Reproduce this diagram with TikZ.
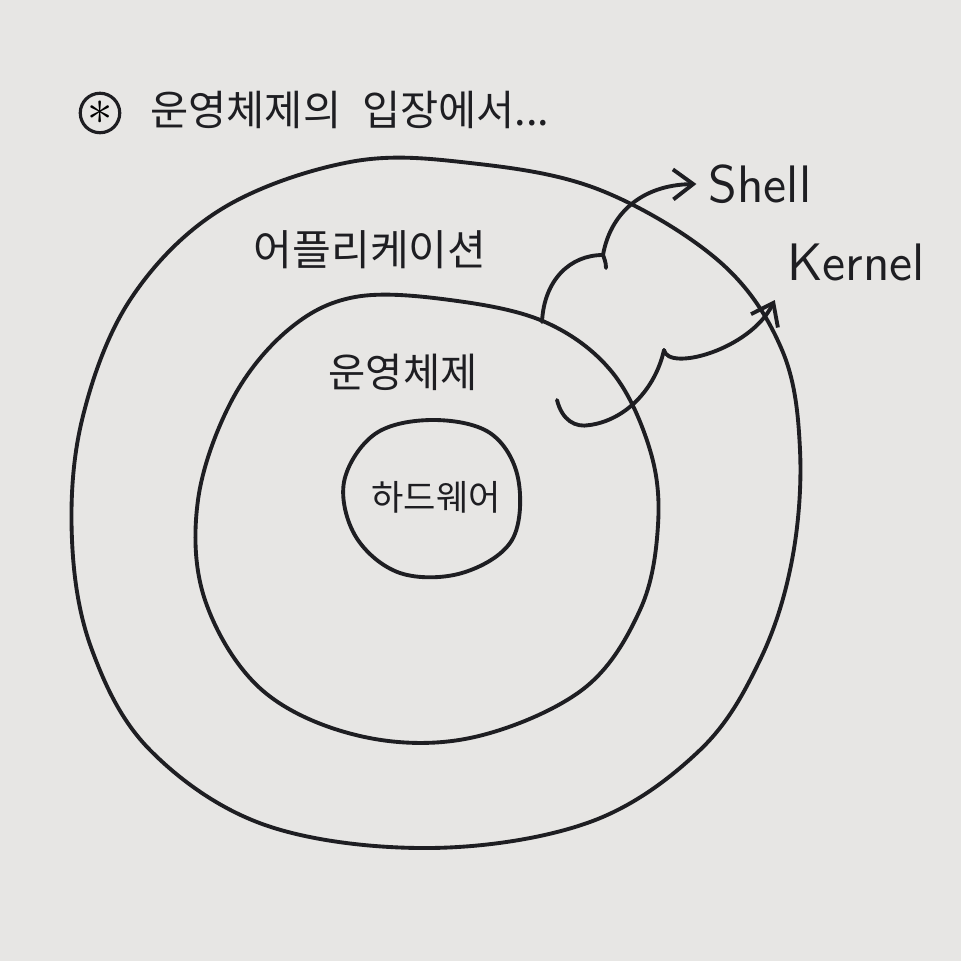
\documentclass[tikz,border=0pt]{standalone}
\usepackage{fontspec}
\newfontfamily\kr{Noto Sans CJK KR}
\usetikzlibrary{arrows.meta}
\definecolor{paper}{RGB}{231,230,228}
\definecolor{ink}{RGB}{30,30,34}
\tikzset{
  pen/.style={ink,line width=1.1pt,line cap=round,line join=round},
  lbl/.style={ink,font=\kr\fontsize{#1}{#1}\selectfont},
  lbl/.default=13,
  eng/.style={ink,font=\sffamily\fontsize{15}{15}\selectfont},
  arr/.style={pen,-{Straight Barb[length=2mm,width=3mm]}}
}
\begin{document}
\begin{tikzpicture}[x=0.01cm,y=-0.01cm]
    \fill[paper] (0,0) rectangle (961,961);
    \useasboundingbox (0,0) rectangle (961,961);
    % title
    \node[circle,draw=ink,line width=0.9pt,inner sep=0.5pt,font=\Large] (star) at (100,113) {$\ast$};
    \node[lbl=11.8,anchor=west] (title) at (138,110) {운영체제의\enspace 입장에서...};
    % three layers
    \draw[pen] plot[smooth cycle,tension=0.6] coordinates {
        (350,162) (470,163) (600,190) (720,262) (782,350) (800,450) (792,560)
        (760,660) (700,750) (590,822) (430,848) (265,825) (150,750) (92,650)
        (72,540) (82,420) (130,300) (220,210)};
    \draw[pen] plot[smooth cycle,tension=0.6] coordinates {
        (355,297) (450,300) (545,322) (612,372) (650,450) (658,525) (640,610)
        (582,690) (470,738) (360,736) (262,690) (205,600) (198,500) (232,400)
        (288,330)};
    \draw[pen] plot[smooth cycle,tension=0.6] coordinates {
        (432,420) (490,433) (518,478) (512,540) (462,573) (400,573) (356,537)
        (344,482) (375,434)};
    \node[lbl=12] (app) at (370,250) {어플리케이션};
    \node[lbl=11.5] (os) at (403,372) {운영체제};
    \node[lbl=10] (hw) at (436,497) {하드웨어};
    \node[eng] (shell) at (760,184) {Shell};
    \node[eng] (kernel) at (856,262) {Kernel};
    % braces
    \coordinate (shelltip) at (603,255);
    \coordinate (kerneltip) at (664,350);
    \draw[pen] (542,322) .. controls (544,280) and (570,255) .. (shelltip) .. controls (604,258) and (606,262) .. (606,268);
    \draw[pen] (557,400) .. controls (562,420) and (575,428) .. (590,425) .. controls (625,420) and (655,390) .. (kerneltip);
    \draw[arr] (shelltip) .. controls (610,215) and (640,185) .. (shell.west);
    \draw[arr] (kerneltip) .. controls (668,372) and (750,350) .. ([yshift=-2pt]kernel.south west);
\end{tikzpicture}
\end{document}
